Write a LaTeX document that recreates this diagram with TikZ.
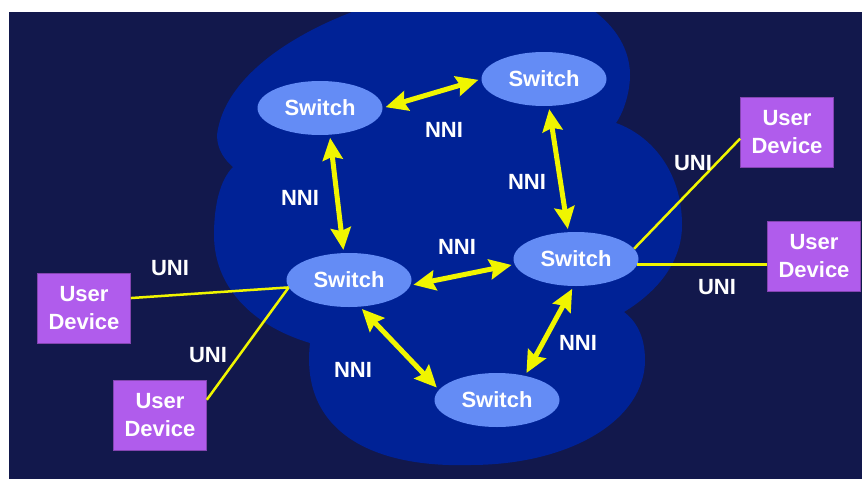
\documentclass[tikz,border=0pt]{standalone}
\usepackage{fontspec}
\setmainfont{Liberation Sans}
\usepackage{xcolor}
\usepackage{tikz}
\usetikzlibrary{shapes.geometric, arrows.meta}

\definecolor{navybg}{RGB}{18,24,76}
\definecolor{cloudblue}{RGB}{0,34,150}
\definecolor{switchblue}{RGB}{100,140,245}
\definecolor{devpurple}{RGB}{176,92,236}
\definecolor{linkyellow}{RGB}{240,245,0}

\begin{document}
\begin{tikzpicture}[x=1pt, y=-1pt,
        switchnode/.style={ellipse, fill=switchblue, minimum width=125pt, minimum height=54pt, inner sep=0pt, text=white, font=\bfseries\fontsize{22}{26}\selectfont},
        device/.style={rectangle, fill=devpurple, draw=devpurple!75!black, line width=0.6pt, minimum width=93pt, minimum height=70pt, inner sep=0pt, align=center, text=white, font=\bfseries\fontsize{22}{28}\selectfont},
        lbl/.style={text=white, font=\bfseries\fontsize{22}{26}\selectfont},
        nni/.style={draw=linkyellow, line width=5pt, {Stealth[length=22pt,width=20pt,inset=3pt]}-{Stealth[length=22pt,width=20pt,inset=3pt]}, shorten >=3pt, shorten <=3pt},
        uni/.style={draw=linkyellow, line width=2.5pt}]
        \useasboundingbox (0,0) rectangle (862,479);

        % Background
        \fill[white] (0,0) rectangle (862,479);
        \fill[navybg] (9,12) rectangle (862,479);

        % Cloud
        \begin{scope}
            \clip (9,12) rectangle (862,479);
            \fill[cloudblue] (372,5) .. controls (310,25) and (225,70) .. (217,135)
                .. controls (217,150) and (225,160) .. (233,167)
                .. controls (220,180) and (214,205) .. (214,235)
                .. controls (214,285) and (250,325) .. (310,343)
                .. controls (300,430) and (370,468) .. (470,465)
                .. controls (570,465) and (645,420) .. (645,360)
                .. controls (645,335) and (635,320) .. (624,312)
                .. controls (660,290) and (682,260) .. (682,225)
                .. controls (682,170) and (650,135) .. (616,123)
                .. controls (625,110) and (630,90) .. (630,75)
                .. controls (630,45) and (610,20) .. (585,5)
                -- (585,-20) -- (372,-20) -- cycle;
        \end{scope}

        % Switches
        \node[switchnode] (s1) at (320,108) {Switch};
        \node[switchnode] (s2) at (544,79) {Switch};
        \node[switchnode] (s3) at (576,259) {Switch};
        \node[switchnode] (s4) at (349,280) {Switch};
        \node[switchnode] (s5) at (497,400) {Switch};

        % User devices
        \node[device] (u1) at (787,132) {User\\Device};
        \node[device] (u2) at (814,256) {User\\Device};
        \node[device] (u3) at (84,308) {User\\Device};
        \node[device] (u4) at (160,415) {User\\Device};

        % NNI links
        \draw[nni] (s1.east) -- (s2.west);
        \draw[nni] (s1.-70) -- (s4.101);
        \draw[nni] (s2.-80) -- (s3.106);
        \draw[nni] (s4.-5) -- (s3.185);
        \draw[nni] (s4.-68) -- (s5.170);
        \draw[nni] (s5.41) -- (s3.-95);

        % UNI links
        \coordinate (j) at (s4.187);
        \draw[uni] (s3.10) -- (u1.188);
        \draw[uni] (s3.-5) -- (u2.west |- s3.-5);
        \draw[uni] (j) -- (u3.12);
        \draw[uni] (j) -- (u4.18);

        % Labels
        \node[lbl] (n1) at (444,130) {NNI};
        \node[lbl] (n2) at (300,198) {NNI};
        \node[lbl] (n3) at (527,182) {NNI};
        \node[lbl] (n4) at (457,247) {NNI};
        \node[lbl] (n5) at (353,370) {NNI};
        \node[lbl] (n6) at (578,343) {NNI};
        \node[lbl] (k1) at (693,163) {UNI};
        \node[lbl] (k2) at (717,287) {UNI};
        \node[lbl] (k3) at (170,268) {UNI};
        \node[lbl] (k4) at (208,355) {UNI};

\end{tikzpicture}
\end{document}
